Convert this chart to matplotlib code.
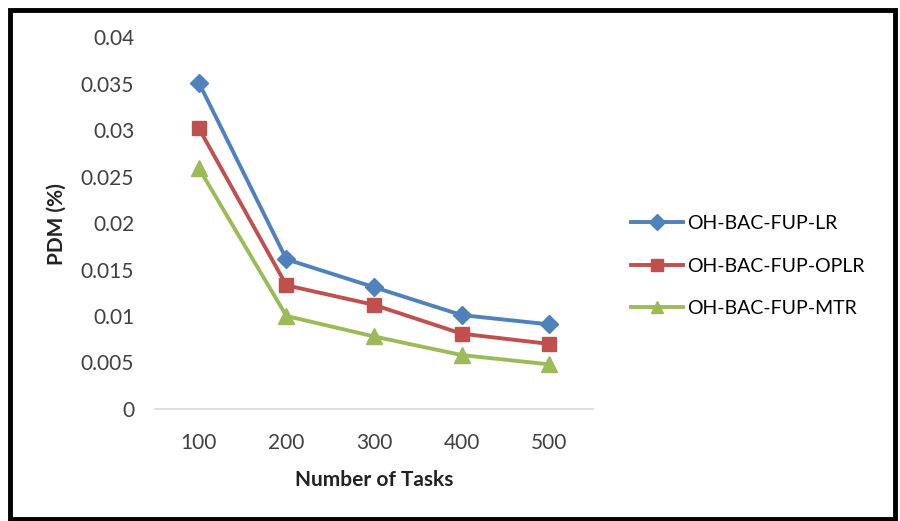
import numpy as np
import matplotlib.pyplot as plt
from matplotlib.patches import Rectangle

# data
tasks = ['100', '200', '300', '400', '500']
lr = [0.0351, 0.0161, 0.0131, 0.0101, 0.0091]
oplr = [0.0302, 0.0133, 0.0112, 0.0081, 0.0070]
mtr = [0.0259, 0.0100, 0.0078, 0.0058, 0.0048]
names = ['OH-BAC-FUP-LR', 'OH-BAC-FUP-OPLR', 'OH-BAC-FUP-MTR']

plt.rcParams['font.family'] = ['Lato', 'DejaVu Sans']

fig = plt.figure(figsize=(9, 5.21), dpi=100)
ax = fig.add_axes([155 / 900, 1 - 409 / 521, 438 / 900, 372 / 521])

x = np.arange(len(tasks))
ax.plot(x, lr, color='#4F81BD', lw=2.8, marker='D', ms=9, label=names[0])
ax.plot(x, oplr, color='#C0504D', lw=2.8, marker='s', ms=10, label=names[1])
ax.plot(x, mtr, color='#9BBB59', lw=2.8, marker='^', ms=11, label=names[2])

ax.set_xlim(-0.5, 4.5)
ax.set_ylim(0, 0.04)
ax.set_xticks(x)
ax.set_xticklabels(tasks)
ax.set_yticks(np.arange(0, 0.0401, 0.005))
ax.set_yticklabels(['0', '0.005', '0.01', '0.015', '0.02', '0.025', '0.03', '0.035', '0.04'])
ax.tick_params(axis='x', length=0, pad=17, labelsize=15, colors='#404040')
ax.tick_params(axis='y', length=0, pad=15, labelsize=15, colors='#404040')
for s in ['top', 'right', 'left']:
    ax.spines[s].set_visible(False)
ax.spines['bottom'].set_color('#d9d9d9')
ax.spines['bottom'].set_linewidth(1.2)

fig.text(374 / 900, 1 - 480 / 521, 'Number of Tasks', ha='center', va='center',
         fontsize=15, fontweight='bold', color='#222222')
fig.text(57 / 900, 1 - 224 / 521, 'PDM (%)', ha='center', va='center', rotation=90,
         fontsize=15, fontweight='bold', color='#222222')

fig.legend(loc='center left', bbox_to_anchor=(613 / 900, 1 - 266 / 521), frameon=False,
           fontsize=14, handlelength=2.7, handletextpad=0.2, labelspacing=1.3,
           markerscale=0.85)

# outer frame
fig.patches.append(Rectangle((9.5 / 900, 2 / 521), 885.5 / 900, 509 / 521,
                             transform=fig.transFigure, fill=False,
                             edgecolor='black', lw=3.5))

fig.savefig('out.png', dpi=100)
